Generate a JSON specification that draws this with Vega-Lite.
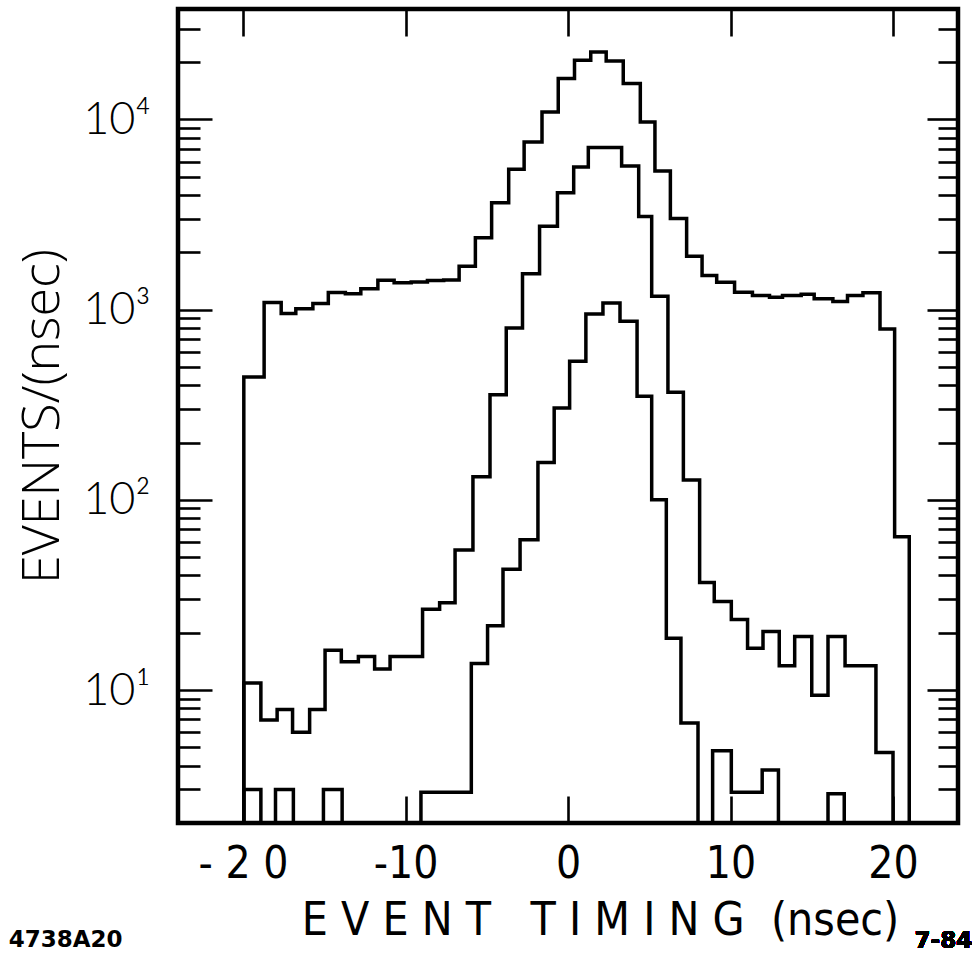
{
  "$schema": "https://vega.github.io/schema/vega-lite/v6.json",
  "width": 780,
  "height": 814,
  "autosize": "none",
  "padding": {"left": 178, "top": 9, "right": 20, "bottom": 143},
  "background": "white",
  "config": {
    "view": {"stroke": "black", "strokeWidth": 4.5},
    "axis": {"grid": false, "domain": false, "tickColor": "black", "labelColor": "black", "titleColor": "black"}
  },
  "title": {
    "text": "4738A20",
    "orient": "bottom",
    "anchor": "start",
    "frame": "bounds",
    "font": "DejaVu Sans",
    "fontSize": 23,
    "fontWeight": "bold",
    "color": "black",
    "offset": -24,
    "dx": -8
  },
  "data": {
    "values": [
      {"s": "A", "t": -19.95, "n": 1},
      {"s": "A", "t": -19.95, "n": 442},
      {"s": "A", "t": -18.7, "n": 1090},
      {"s": "A", "t": -17.65, "n": 953},
      {"s": "A", "t": -16.75, "n": 1009},
      {"s": "A", "t": -15.7, "n": 1075},
      {"s": "A", "t": -14.75, "n": 1229},
      {"s": "A", "t": -13.7, "n": 1210},
      {"s": "A", "t": -12.75, "n": 1285},
      {"s": "A", "t": -11.7, "n": 1427},
      {"s": "A", "t": -10.7, "n": 1382},
      {"s": "A", "t": -9.65, "n": 1395},
      {"s": "A", "t": -8.65, "n": 1421},
      {"s": "A", "t": -7.65, "n": 1430},
      {"s": "A", "t": -6.7, "n": 1690},
      {"s": "A", "t": -5.7, "n": 2382},
      {"s": "A", "t": -4.7, "n": 3644},
      {"s": "A", "t": -3.65, "n": 5456},
      {"s": "A", "t": -2.7, "n": 7596},
      {"s": "A", "t": -1.6, "n": 10925},
      {"s": "A", "t": -0.6, "n": 16370},
      {"s": "A", "t": 0.4, "n": 20440},
      {"s": "A", "t": 1.4, "n": 22600},
      {"s": "A", "t": 2.35, "n": 20270},
      {"s": "A", "t": 3.4, "n": 15420},
      {"s": "A", "t": 4.45, "n": 9680},
      {"s": "A", "t": 5.35, "n": 5345},
      {"s": "A", "t": 6.3, "n": 3013},
      {"s": "A", "t": 7.3, "n": 1908},
      {"s": "A", "t": 8.25, "n": 1510},
      {"s": "A", "t": 9.15, "n": 1392},
      {"s": "A", "t": 10.25, "n": 1233},
      {"s": "A", "t": 11.35, "n": 1185},
      {"s": "A", "t": 12.4, "n": 1160},
      {"s": "A", "t": 13.2, "n": 1185},
      {"s": "A", "t": 14.35, "n": 1204},
      {"s": "A", "t": 15.15, "n": 1138},
      {"s": "A", "t": 16.3, "n": 1102},
      {"s": "A", "t": 17.2, "n": 1185},
      {"s": "A", "t": 18.15, "n": 1225},
      {"s": "A", "t": 19.2, "n": 791},
      {"s": "A", "t": 20.1, "n": 64},
      {"s": "A", "t": 21.0, "n": 1},
      {"s": "B", "t": -19.95, "n": 1},
      {"s": "B", "t": -19.95, "n": 10.9},
      {"s": "B", "t": -18.9, "n": 6.95},
      {"s": "B", "t": -17.9, "n": 7.9},
      {"s": "B", "t": -16.95, "n": 6.0},
      {"s": "B", "t": -15.9, "n": 7.9},
      {"s": "B", "t": -14.95, "n": 16.2},
      {"s": "B", "t": -13.95, "n": 14.1},
      {"s": "B", "t": -12.9, "n": 15.0},
      {"s": "B", "t": -11.9, "n": 12.9},
      {"s": "B", "t": -10.95, "n": 15.0},
      {"s": "B", "t": -9.95, "n": 15.0},
      {"s": "B", "t": -8.95, "n": 26.6},
      {"s": "B", "t": -7.9, "n": 28.8},
      {"s": "B", "t": -6.95, "n": 54.5},
      {"s": "B", "t": -5.85, "n": 132},
      {"s": "B", "t": -4.8, "n": 357},
      {"s": "B", "t": -3.8, "n": 800},
      {"s": "B", "t": -2.8, "n": 1540},
      {"s": "B", "t": -1.75, "n": 2740},
      {"s": "B", "t": -0.65, "n": 4110},
      {"s": "B", "t": 0.35, "n": 5610},
      {"s": "B", "t": 1.25, "n": 7100},
      {"s": "B", "t": 2.3, "n": 7100},
      {"s": "B", "t": 3.3, "n": 5680},
      {"s": "B", "t": 4.35, "n": 3080},
      {"s": "B", "t": 5.15, "n": 1175},
      {"s": "B", "t": 6.15, "n": 367},
      {"s": "B", "t": 7.1, "n": 127},
      {"s": "B", "t": 8.1, "n": 36.7},
      {"s": "B", "t": 9.0, "n": 29.2},
      {"s": "B", "t": 10.05, "n": 23.5},
      {"s": "B", "t": 11.05, "n": 16.6},
      {"s": "B", "t": 12.0, "n": 20.3},
      {"s": "B", "t": 13.0, "n": 13.4},
      {"s": "B", "t": 13.95, "n": 19.1},
      {"s": "B", "t": 15.0, "n": 9.4},
      {"s": "B", "t": 16.0, "n": 19.1},
      {"s": "B", "t": 17.05, "n": 13.4},
      {"s": "B", "t": 18.0, "n": 13.4},
      {"s": "B", "t": 18.95, "n": 4.7},
      {"s": "B", "t": 20.0, "n": 1},
      {"s": "C", "t": -19.95, "n": 1},
      {"s": "C", "t": -19.95, "n": 3},
      {"s": "C", "t": -18.9, "n": 1},
      {"s": "C", "t": -18.0, "n": 3},
      {"s": "C", "t": -16.9, "n": 1},
      {"s": "C", "t": -15.05, "n": 3},
      {"s": "C", "t": -13.9, "n": 1},
      {"s": "C", "t": -9.05, "n": 2.9},
      {"s": "C", "t": -5.95, "n": 13.8},
      {"s": "C", "t": -4.95, "n": 21.8},
      {"s": "C", "t": -4.0, "n": 43.2},
      {"s": "C", "t": -2.95, "n": 61.6},
      {"s": "C", "t": -1.85, "n": 157},
      {"s": "C", "t": -0.85, "n": 304},
      {"s": "C", "t": 0.1, "n": 535},
      {"s": "C", "t": 1.1, "n": 948},
      {"s": "C", "t": 2.15, "n": 1084},
      {"s": "C", "t": 3.2, "n": 868},
      {"s": "C", "t": 4.25, "n": 350},
      {"s": "C", "t": 5.15, "n": 100},
      {"s": "C", "t": 6.05, "n": 18.7},
      {"s": "C", "t": 6.95, "n": 6.7},
      {"s": "C", "t": 8.0, "n": 1},
      {"s": "C", "t": 8.9, "n": 4.8},
      {"s": "C", "t": 10.05, "n": 2.9},
      {"s": "C", "t": 11.95, "n": 3.8},
      {"s": "C", "t": 12.95, "n": 1},
      {"s": "C", "t": 16.0, "n": 2.85},
      {"s": "C", "t": 17.0, "n": 1}
    ]
  },
  "layer": [
    {
      "mark": {"type": "line", "interpolate": "step-after", "color": "black", "strokeWidth": 3.5, "clip": true},
      "encoding": {
        "x": {
          "field": "t", "type": "quantitative",
          "scale": {"domain": [-24, 24], "nice": false, "zero": false},
          "axis": {
            "orient": "bottom",
            "values": [-20, -10, 0, 10, 20],
            "tickSize": -27, "tickWidth": 2.6,
            "labelPadding": 46,
            "labelExpr": "datum.value == -20 ? '- 2 0' : datum.value == -10 ? '-10' : '' + datum.value",
            "labelFont": "Liberation Sans Narrow, DejaVu Sans Condensed, Roboto",
            "labelFontSize": 44,
            "labelFontWeight": "normal",
            "labelFlush": false, "labelOverlap": false, "labelBound": false,
            "title": "E V E N T\u00a0\u00a0\u00a0T I M I N G\u00a0\u00a0(nsec)",
            "titleFont": "Liberation Sans Narrow, DejaVu Sans Condensed, Roboto",
            "titleFontSize": 46,
            "titleFontWeight": "normal",
            "titlePadding": 12,
            "titleX": 422,
            "titleAlign": "center"
          }
        },
        "y": {
          "field": "n", "type": "quantitative",
          "scale": {"type": "log", "domain": [2, 38000], "nice": false},
          "axis": {
            "orient": "left",
            "values": [2,3,4,5,6,7,8,9,10,20,30,40,50,60,70,80,90,100,200,300,400,500,600,700,800,900,1000,2000,3000,4000,5000,6000,7000,8000,9000,10000,20000,30000],
            "tickSize": {"condition": {"test": "datum.value == 10 || datum.value == 100 || datum.value == 1000 || datum.value == 10000", "value": -34}, "value": -22},
            "tickWidth": 2.6,
            "labelExpr": "datum.value == 10 ? '10¹' : datum.value == 100 ? '10²' : datum.value == 1000 ? '10³' : datum.value == 10000 ? '10⁴' : ''",
            "labelPadding": 62,
            "labelFont": "Lato",
            "labelFontSize": 45,
            "labelFontWeight": 300,
            "labelFlush": false, "labelOverlap": false, "labelBound": false,
            "title": "EVENTS/(nsec)",
            "titleFont": "Open Sans",
            "titleFontSize": 52,
            "titleFontWeight": 300,
            "titlePadding": 13
          }
        },
        "detail": {"field": "s", "type": "nominal"}
      }
    },
    {
      "mark": {"type": "line", "interpolate": "step-after", "color": "black", "strokeWidth": 3.5, "strokeOpacity": 0, "clip": true},
      "encoding": {
        "x": {
          "field": "t", "type": "quantitative",
          "axis": {"orient": "top", "values": [-20, -10, 0, 10, 20], "tickSize": -27, "tickWidth": 2.6, "labels": false, "title": null}
        },
        "y": {
          "field": "n", "type": "quantitative",
          "axis": {
            "orient": "right",
            "values": [2,3,4,5,6,7,8,9,10,20,30,40,50,60,70,80,90,100,200,300,400,500,600,700,800,900,1000,2000,3000,4000,5000,6000,7000,8000,9000,10000,20000,30000],
            "tickSize": {"condition": {"test": "datum.value == 10 || datum.value == 100 || datum.value == 1000 || datum.value == 10000", "value": -31}, "value": -20},
            "tickWidth": 2.6, "labels": false, "title": null
          }
        },
        "detail": {"field": "s", "type": "nominal"}
      }
    },
    {
      "mark": {"type": "text", "text": "7-84", "font": "DejaVu Sans", "fontSize": 23, "fontWeight": "bold", "color": "black", "align": "center", "baseline": "middle"},
      "encoding": {
        "x": {"datum": 23.1, "type": "quantitative", "axis": null},
        "y": {"datum": 0.48, "type": "quantitative", "axis": null}
      }
    }
  ],
  "resolve": {"axis": {"x": "independent", "y": "independent"}}
}
